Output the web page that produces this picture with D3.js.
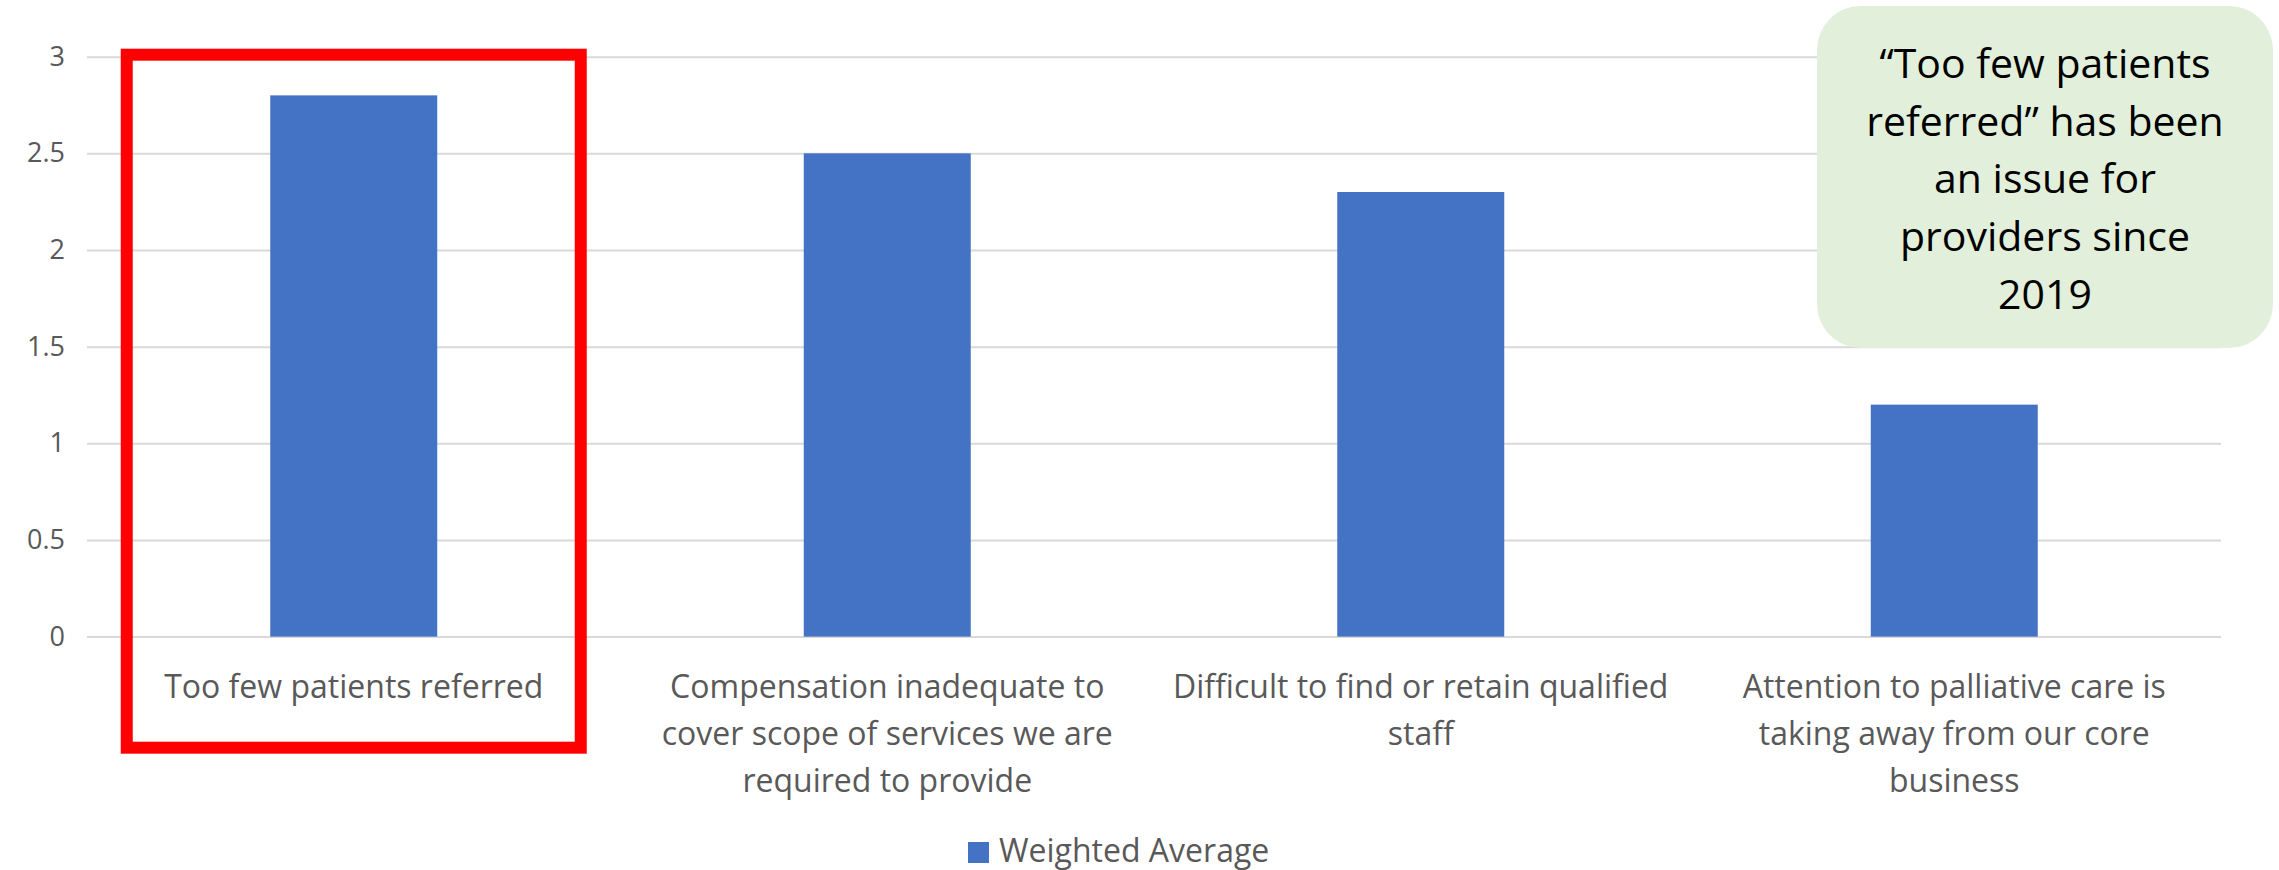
<!DOCTYPE html>
<html>
<head>
<meta charset="utf-8">
<script src="https://cdn.jsdelivr.net/npm/d3@7"></script>
<style>
  html, body { margin: 0; padding: 0; background: #ffffff; }
  svg { display: block; }
</style>
</head>
<body>
<svg id="chart" width="2279" height="870"></svg>
<script>
// Barriers to providing palliative care, weighted average score per item
const categories = [
  "Too few patients referred",
  "Compensation inadequate to cover scope of services we are required to provide",
  "Difficult to find or retain qualified staff",
  "Attention to palliative care is taking away from our core business"
];
const weightedAverage = [2.8, 2.5, 2.3, 1.2];
const yTicks = [0, 0.5, 1, 1.5, 2, 2.5, 3];
const seriesName = "Weighted Average";
const calloutLines = [
  "\u201CToo few patients",
  "referred\u201D has been",
  "an issue for",
  "providers since",
  "2019"
];
const highlighted = "Too few patients referred";

const svg = d3.select("#chart");
const plot = { left: 87, right: 2221, top: 56.7, bottom: 636.6 };

const x = d3.scaleBand()
  .domain(categories)
  .range([plot.left, plot.right])
  .paddingInner(0.687)
  .paddingOuter(0.3435);

const y = d3.scaleLinear()
  .domain([0, 3])
  .range([plot.bottom, plot.top]);

const tickFont = "'Open Sans', 'Noto Sans', sans-serif";
const grey = "#595959";

// horizontal gridlines (the zero line doubles as the category axis)
svg.append("g")
  .attr("transform", `translate(${plot.left},0)`)
  .call(d3.axisLeft(y).tickValues(yTicks).tickSize(-(plot.right - plot.left)).tickFormat(""))
  .call(g => g.select(".domain").remove())
  .call(g => g.selectAll(".tick line").attr("stroke", "#d9d9d9").attr("stroke-width", 2));

// value axis labels
svg.append("g")
  .attr("transform", `translate(${plot.left},0)`)
  .call(d3.axisLeft(y).tickValues(yTicks).tickSize(0).tickPadding(22).tickFormat(d3.format("~g")))
  .call(g => g.select(".domain").remove())
  .call(g => g.selectAll(".tick text")
    .attr("fill", grey)
    .style("font-family", tickFont)
    .style("font-size", "27px"));

// bars
svg.append("g")
  .selectAll("rect")
  .data(categories)
  .join("rect")
  .attr("x", d => x(d))
  .attr("width", x.bandwidth())
  .attr("y", (d, i) => y(weightedAverage[i]))
  .attr("height", (d, i) => y(0) - y(weightedAverage[i]))
  .attr("fill", "#4472C4");

// wrapped category labels
const labelFont = "'Open Sans', 'Noto Sans', sans-serif";
const labelSize = 32;
const maxLabelWidth = x.step() * 0.96;
const measurer = svg.append("text")
  .style("font-family", labelFont)
  .style("font-size", labelSize + "px")
  .attr("visibility", "hidden");
function wrap(str) {
  const words = str.split(" ");
  const lines = [];
  let cur = "";
  words.forEach(w => {
    const trial = cur ? cur + " " + w : w;
    measurer.text(trial);
    if (cur && measurer.node().getComputedTextLength() > maxLabelWidth) {
      lines.push(cur);
      cur = w;
    } else {
      cur = trial;
    }
  });
  if (cur) lines.push(cur);
  return lines;
}

const labels = svg.append("g")
  .selectAll("text")
  .data(categories)
  .join("text")
  .attr("text-anchor", "middle")
  .attr("fill", grey)
  .style("font-family", labelFont)
  .style("font-size", labelSize + "px");
labels.each(function (d) {
  const cx = x(d) + x.bandwidth() / 2;
  d3.select(this).selectAll("tspan")
    .data(wrap(d))
    .join("tspan")
    .attr("x", cx)
    .attr("y", (l, i) => y(0) + 61 + i * 47)
    .text(l => l);
});
measurer.remove();

// red highlight frame around the leading category
const hx = x(highlighted) + x.bandwidth() / 2;
svg.append("rect")
  .attr("x", hx - 227)
  .attr("y", y(3) - 2)
  .attr("width", 454)
  .attr("height", 693)
  .attr("fill", "none")
  .attr("stroke", "#FF0000")
  .attr("stroke-width", 12);

// legend
const legend = svg.append("g").attr("transform", "translate(968,0)");
legend.append("rect")
  .attr("x", 0).attr("y", 842)
  .attr("width", 21).attr("height", 21)
  .attr("fill", "#4472C4");
legend.append("text")
  .attr("x", 31).attr("y", 862)
  .attr("fill", grey)
  .style("font-family", tickFont)
  .style("font-size", "32px")
  .text(seriesName);

// callout box
const callout = svg.append("g");
callout.append("rect")
  .attr("x", 1817).attr("y", 6)
  .attr("width", 456).attr("height", 342)
  .attr("rx", 44).attr("ry", 44)
  .attr("fill", "#E2EFDA");
callout.append("text")
  .attr("text-anchor", "middle")
  .attr("fill", "#000000")
  .style("font-family", "'Open Sans', 'Noto Sans', sans-serif")
  .style("font-size", "41px")
  .selectAll("tspan")
  .data(calloutLines)
  .join("tspan")
  .attr("x", 2045)
  .attr("y", (d, i) => 78 + i * 57.7)
  .text(d => d);
</script>
</body>
</html>
